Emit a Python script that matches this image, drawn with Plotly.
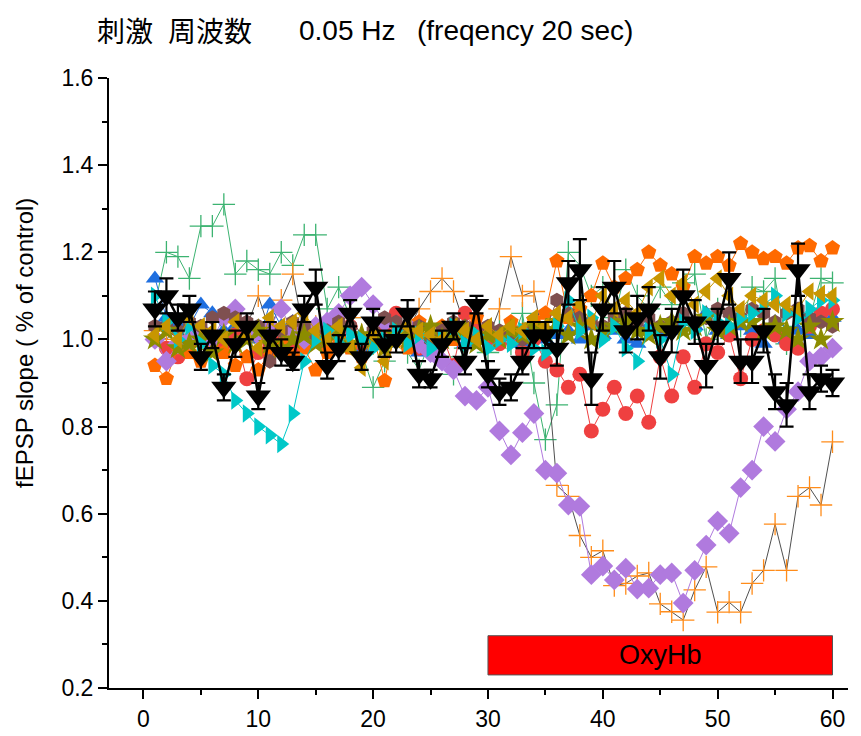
import plotly.graph_objects as go

x = list(range(1, 61))

blue_tri = [1.14, 1.05, 1.04, 1.03, 1.08, 1.06, 1.02, 1.03, 1.01, 1.00,
            1.08, 1.03, 1.04, 1.02, 1.00, 0.99, 1.01, 1.02, 0.98, 1.01,
            0.99, 1.02, 1.00, 0.97, 1.01, 1.00, 1.03, 0.99, 1.02, 1.00,
            1.01, 1.03, 0.99, 1.02, 1.00, 1.01, 1.02, 1.00, 1.03, 1.01,
            1.02, 1.00, 0.99, 1.03, 1.01, 1.02, 1.04, 1.03, 1.06, 1.02,
            1.01, 1.03, 1.02, 0.99, 1.04, 1.00, 1.02, 1.01, 1.05, 1.05]

red_circ = [1.00, 0.98, 0.96, 0.99, 1.00, 0.98, 0.99, 1.01, 0.91, 0.97,
            0.99, 1.00, 0.98, 1.02, 1.00, 0.98, 1.01, 1.03, 0.99, 1.00,
            1.02, 1.06, 1.00, 0.98, 0.99, 1.01, 0.94, 1.06, 1.02, 1.00,
            0.99, 1.01, 0.97, 1.00, 0.95, 0.93, 0.89, 0.92, 0.79, 0.84,
            0.89, 0.83, 0.87, 0.81, 0.96, 0.87, 0.96, 0.89, 0.99, 0.97,
            1.01, 0.91, 1.00, 1.02, 1.01, 0.99, 0.98, 1.03, 1.06, 1.07]

orange_pent = [0.94, 0.91, 0.98, 0.97, 0.95, 0.99, 0.97, 0.94, 0.96, 0.93,
               0.97, 0.99, 0.96, 0.98, 0.93, 0.97, 1.00, 0.98, 0.96, 1.01,
               0.905, 1.03, 0.98, 1.04, 0.98, 1.03, 1.00, 1.02, 1.05, 1.01,
               1.01, 1.04, 1.02, 1.045, 1.06, 1.18, 1.05, 1.07, 1.10, 1.175,
               1.12, 1.14, 1.16, 1.20, 1.17, 1.15, 1.12, 1.19, 1.175, 1.19,
               1.17, 1.22, 1.20, 1.185, 1.19, 1.175, 1.21, 1.215, 1.18, 1.21]

green_plus = [1.08, 1.20, 1.19, 1.14, 1.26, 1.26, 1.31, 1.15, 1.18, 1.16,
              1.15, 1.20, 1.17, 1.24, 1.24, 1.07, 1.12, 1.05, 0.97, 0.89,
              0.95, 1.00, 0.97, 0.93, 1.00, 0.96, 0.92, 0.98, 1.02, 0.97,
              1.03, 0.99, 1.06, 0.90, 0.77, 0.85, 1.20, 1.17, 1.10, 1.12,
              1.05, 1.16, 1.10, 1.07, 1.12, 1.08, 1.13, 1.15, 1.00, 1.07,
              1.06, 1.03, 1.12, 1.11, 1.14, 0.99, 1.03, 1.05, 1.14, 1.13]

purple_diam = [1.00, 0.95, 0.99, 1.00, 1.02, 1.00, 1.05, 1.07, 1.03, 1.01,
               1.03, 1.07, 1.02, 1.00, 1.03, 1.04, 1.06, 1.10, 1.12, 1.08,
               1.04, 1.01, 1.03, 0.99, 0.97, 0.95, 0.93, 0.87, 0.86, 0.89,
               0.79, 0.735, 0.786, 0.83, 0.70, 0.693, 0.62, 0.617, 0.46, 0.48,
               0.448, 0.475, 0.427, 0.429, 0.46, 0.464, 0.395, 0.47, 0.528, 0.583,
               0.555, 0.66, 0.70, 0.80, 0.766, 0.84, 0.88, 0.95, 0.96, 0.98]

cyan_tri = [1.10, 1.04, 1.00, 1.03, 0.99, 0.94, 0.92, 0.86, 0.83, 0.80,
            0.78, 0.76, 0.83, 0.95, 1.00, 1.02, 0.99, 1.01, 1.00, 0.98,
            1.00, 1.02, 0.99, 1.01, 0.98, 1.00, 1.03, 0.99, 1.01, 0.98,
            1.00, 0.99, 1.02, 0.98, 0.97, 1.03, 1.09, 1.02, 1.05, 1.00,
            1.03, 0.98, 0.95, 1.02, 1.00, 0.92, 1.04, 1.02, 1.06, 1.04,
            1.03, 1.05, 1.06, 1.08, 1.10, 1.06, 1.05, 1.07, 1.09, 1.09]

gold_tri = [1.01, 1.03, 1.00, 1.05, 1.03, 1.02, 1.00, 1.04, 1.01, 0.98,
            1.05, 1.03, 1.04, 1.06, 1.02, 1.00, 1.03, 0.98, 0.935, 1.01,
            0.95, 1.00, 1.03, 1.02, 1.01, 1.00, 1.03, 1.02, 1.00, 1.03,
            1.01, 1.03, 1.02, 1.05, 1.03, 1.06, 1.05, 1.08, 1.04, 1.10,
            1.07, 1.09, 1.06, 1.12, 1.14, 1.10, 1.13, 1.08, 1.11, 1.14,
            1.10, 1.07, 1.10, 1.09, 1.08, 1.08, 1.07, 1.11, 1.105, 1.10]

brown_hex = [1.03, 1.03, 1.02, 1.04, 1.03, 1.05, 1.06, 1.05, 1.04, 1.03,
             0.95, 1.02, 1.04, 1.03, 1.01, 1.02, 1.04, 1.03, 1.00, 1.02,
             1.05, 1.04, 1.02, 1.03, 1.00, 1.02, 1.04, 1.03, 1.00, 1.03,
             1.02, 1.01, 1.00, 1.03, 1.02, 1.09, 1.06, 1.05, 1.04, 1.03,
             1.05, 1.06, 1.04, 1.05, 1.03, 1.04, 1.06, 1.04, 1.05, 1.07,
             1.06, 1.05, 1.07, 1.06, 1.04, 1.06, 1.07, 1.05, 1.04, 1.03]

olive_star = [1.00, 1.02, 0.98, 0.99, 1.00, 0.97, 1.01, 0.99, 1.00, 1.02,
              0.99, 0.98, 1.00, 1.01, 0.99, 1.00, 1.02, 0.99, 1.01, 1.00,
              0.98, 1.01, 1.00, 1.02, 1.03, 1.00, 1.01, 1.02, 0.99, 1.01,
              1.00, 1.02, 1.01, 1.03, 1.02, 1.04, 1.01, 1.03, 1.00, 1.02,
              1.03, 1.04, 1.02, 1.01, 1.03, 1.04, 1.02, 1.03, 1.05, 1.02,
              1.03, 1.04, 1.04, 1.02, 1.03, 1.02, 1.00, 1.03, 1.00, 1.04]

orange_plus = [1.02, 1.00, 1.03, 0.99, 1.01, 1.02, 1.00, 1.04, 1.03, 1.10,
               1.02, 1.09, 1.15, 1.01, 1.03, 1.00, 1.02, 1.05, 1.01, 0.99,
               1.01, 1.00, 1.02, 1.07, 1.11, 1.14, 1.11, 1.03, 1.02, 1.00,
               1.07, 1.19, 1.10, 1.11, 0.98, 0.665, 0.64, 0.55, 0.50, 0.515,
               0.435, 0.44, 0.457, 0.464, 0.393, 0.375, 0.356, 0.425, 0.478, 0.374,
               0.397, 0.374, 0.44, 0.47, 0.576, 0.47, 0.64, 0.66, 0.62, 0.765]

mean_vals = [1.07, 1.10, 1.05, 1.07, 0.96, 1.01, 0.89, 0.99, 1.03, 0.87,
             1.01, 0.97, 0.95, 1.07, 1.12, 0.94, 0.98, 1.06, 0.96, 1.04,
             0.99, 1.00, 1.06, 0.92, 0.91, 0.99, 1.03, 0.95, 1.08, 0.92,
             0.88, 0.89, 0.95, 1.01, 1.01, 0.98, 1.13, 1.16, 0.91, 1.07,
             1.12, 1.02, 1.05, 1.07, 0.96, 1.02, 1.10, 1.04, 0.94, 1.03,
             1.14, 0.95, 0.95, 1.02, 0.88, 0.85, 1.16, 0.88, 0.91, 0.90]

mean_err = [0.04, 0.04, 0.03, 0.03, 0.03, 0.03, 0.03, 0.03, 0.03, 0.03,
            0.03, 0.03, 0.02, 0.03, 0.04, 0.03, 0.03, 0.03, 0.03, 0.03,
            0.03, 0.03, 0.03, 0.03, 0.02, 0.03, 0.03, 0.03, 0.02, 0.03,
            0.03, 0.03, 0.03, 0.03, 0.03, 0.04, 0.05, 0.07, 0.06, 0.05,
            0.06, 0.05, 0.05, 0.05, 0.05, 0.05, 0.06, 0.05, 0.05, 0.04,
            0.06, 0.05, 0.05, 0.05, 0.04, 0.05, 0.06, 0.04, 0.03, 0.03]

title_parts = ["刺激", "周波数", "0.05 Hz", "(freqency 20 sec)"]
bar_label = "OxyHb"
y_title = "fEPSP slope ( % of control)"

FONT = "Liberation Sans, Arial, Noto Sans CJK JP, sans-serif"
CJK = "Noto Sans CJK JP, Liberation Sans, sans-serif"

# the page body has an 8px margin; plot area lands at page x 108..848, y 78..688
OFF = 8
W, H = 861 - 2 * OFF, 736 - OFF
ML, MT = 101, 70
PW, PH = 739, 610
MR, MB = W - ML - PW, H - MT - PH


def px_to_paper(px, py):
    return (px - OFF - ML) / PW, 1 - (py - OFF - MT) / PH


fig = go.Figure()


def add_series(y, symbol, color, size, line_color=None, open_sym=False):
    mk = dict(symbol=symbol, size=size, color=color)
    if open_sym:
        mk["line"] = dict(color=color, width=1.3)
    else:
        mk["line"] = dict(width=0)
    fig.add_trace(go.Scatter(
        x=x, y=y, mode="lines+markers",
        line=dict(color=line_color or color, width=1),
        marker=mk, showlegend=False, cliponaxis=False))


add_series(green_plus, "cross-thin", "#3cb371", 16, open_sym=True)
add_series(orange_plus, "cross-thin", "#ff8c1a", 16, line_color="#505050", open_sym=True)
add_series(blue_tri, "triangle-up", "#1f6fe0", 16)
add_series(red_circ, "circle", "#ef4040", 15)
add_series(orange_pent, "pentagon", "#ff6a00", 16)
add_series(purple_diam, "diamond", "#b07ade", 16)
add_series(brown_hex, "hexagon", "#7f5050", 15)
add_series(olive_star, "star", "#8c8c00", 18)
add_series(cyan_tri, "triangle-right", "#00c8c8", 16)
add_series(gold_tri, "triangle-left", "#c89600", 16)

fig.add_trace(go.Scatter(
    x=x, y=mean_vals, mode="lines+markers",
    line=dict(color="black", width=2.5),
    marker=dict(symbol="triangle-down", size=22, color="black", line=dict(width=0)),
    error_y=dict(type="data", array=mean_err, color="black", thickness=2.2, width=7),
    showlegend=False, cliponaxis=False))

fig.add_shape(type="rect", x0=30, x1=60, y0=0.23, y1=0.32,
              xref="x", yref="y", fillcolor="#ff0000",
              line=dict(color="#555555", width=1), layer="above")
fig.add_annotation(x=45, y=0.275, xref="x", yref="y", text=bar_label,
                   showarrow=False, font=dict(family=FONT, size=27, color="black"))

title_x = [95, 166, 297, 415]
title_fonts = [CJK, CJK, FONT, FONT]
for t, px, fam in zip(title_parts, title_x, title_fonts):
    ax, ay = px_to_paper(px, 30)
    fig.add_annotation(x=ax, y=ay, xref="paper", yref="paper",
                       xanchor="left", yanchor="middle", text=t, showarrow=False,
                       font=dict(family=fam, size=28, color="black"))

ax, ay = px_to_paper(25, 343)
fig.add_annotation(x=ax, y=ay, xref="paper", yref="paper", xanchor="center",
                   yanchor="middle", text=y_title, textangle=-90, showarrow=False,
                   font=dict(family=FONT, size=24, color="black"))

fig.update_layout(
    width=W, height=H,
    margin=dict(l=ML, r=MR, t=MT, b=MB, autoexpand=False),
    plot_bgcolor="white", paper_bgcolor="white",
    font=dict(family=FONT, size=23, color="black"),
    xaxis=dict(range=[-3, 61.35], tickvals=[0, 10, 20, 30, 40, 50, 60],
               automargin=False,
               showline=True, linecolor="black", linewidth=2,
               ticks="outside", ticklen=9, tickwidth=2, tickcolor="black",
               showgrid=False, zeroline=False,
               minor=dict(tickvals=[5, 15, 25, 35, 45, 55], ticks="outside",
                          ticklen=5, tickwidth=2, tickcolor="black"),
               tickfont=dict(size=23)),
    yaxis=dict(range=[0.2, 1.6], tickvals=[0.2, 0.4, 0.6, 0.8, 1.0, 1.2, 1.4, 1.6],
               tickformat=".1f", automargin=False,
               showline=True, linecolor="black", linewidth=2,
               ticks="outside", ticklen=9, tickwidth=2, tickcolor="black",
               showgrid=False, zeroline=False,
               minor=dict(tickvals=[0.3, 0.5, 0.7, 0.9, 1.1, 1.3, 1.5], ticks="outside",
                          ticklen=5, tickwidth=2, tickcolor="black"),
               tickfont=dict(size=23)),
)

fig.write_html("out.html")
